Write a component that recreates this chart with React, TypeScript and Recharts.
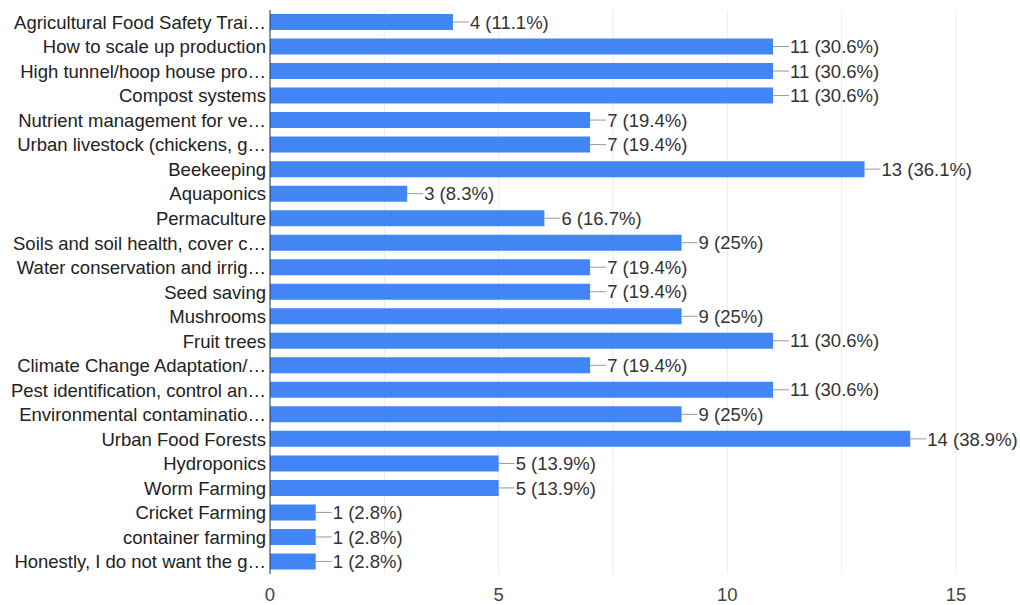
import React from 'react';
import { BarChart, Bar, XAxis, YAxis, CartesianGrid, LabelList } from 'recharts';

const categories = [
  'Agricultural Food Safety Trai…',
  'How to scale up production',
  'High tunnel/hoop house pro…',
  'Compost systems',
  'Nutrient management for ve…',
  'Urban livestock (chickens, g…',
  'Beekeeping',
  'Aquaponics',
  'Permaculture',
  'Soils and soil health, cover c…',
  'Water conservation and irrig…',
  'Seed saving',
  'Mushrooms',
  'Fruit trees',
  'Climate Change Adaptation/…',
  'Pest identification, control an…',
  'Environmental contaminatio…',
  'Urban Food Forests',
  'Hydroponics',
  'Worm Farming',
  'Cricket Farming',
  'container farming',
  'Honestly, I do not want the g…',
];

const counts = [4, 11, 11, 11, 7, 7, 13, 3, 6, 9, 7, 7, 9, 11, 7, 11, 9, 14, 5, 5, 1, 1, 1];
const percents = [
  '11.1%', '30.6%', '30.6%', '30.6%', '19.4%', '19.4%', '36.1%', '8.3%', '16.7%', '25%', '19.4%',
  '19.4%', '25%', '30.6%', '19.4%', '30.6%', '25%', '38.9%', '13.9%', '13.9%', '2.8%', '2.8%', '2.8%',
];
const xTicks = [0, 5, 10, 15];
const gridValues = [0, 2.5, 5, 7.5, 10, 12.5, 15];

const data = categories.map((name, i) => ({
  name,
  count: counts[i],
  label: `${counts[i]} (${percents[i]})`,
}));

const FONT = '"Liberation Sans", Arial, sans-serif';

const ValueLabel = (props: any) => {
  const { x, y, width, height, value } = props;
  const ex = x + width;
  const cy = y + height / 2;
  return (
    <g>
      <line x1={ex} y1={cy} x2={ex + 16} y2={cy} stroke="#999" strokeWidth={1} />
      <text x={ex + 17} y={cy} dy="0.36em" fill="#333" fontSize={18.5} fontFamily={FONT}>
        {value}
      </text>
    </g>
  );
};

export default function App() {
  return (
    <div style={{ position: 'absolute', left: 0, top: 0, width: 1020, height: 605, background: '#fff' }}>
      <BarChart
        width={1020}
        height={605}
        data={data}
        layout="vertical"
        margin={{ top: 10, right: 64, bottom: 0, left: 0 }}
      >
        <CartesianGrid horizontal={false} vertical verticalValues={gridValues} stroke="#ebebeb" />
        <XAxis
          xAxisId="top"
          orientation="top"
          type="number"
          domain={[0, 15]}
          height={0}
          tick={false}
          tickLine={false}
          axisLine={{ stroke: '#ebebeb' }}
        />
        <XAxis
          type="number"
          domain={[0, 15]}
          ticks={xTicks}
          height={31}
          tickLine={false}
          axisLine={false}
          tick={{ fill: '#444', fontSize: 18.5, fontFamily: FONT }}
          tickMargin={8}
        />
        <YAxis
          type="category"
          dataKey="name"
          width={270}
          interval={0}
          tickLine={false}
          tickSize={4}
          tickMargin={0}
          axisLine={{ stroke: '#333' }}
          tick={{ fill: '#222', fontSize: 18.5, fontFamily: FONT }}
        />
        <Bar dataKey="count" fill="#4285f4" barSize={16} isAnimationActive={false}>
          <LabelList dataKey="label" content={ValueLabel} />
        </Bar>
      </BarChart>
    </div>
  );
}
